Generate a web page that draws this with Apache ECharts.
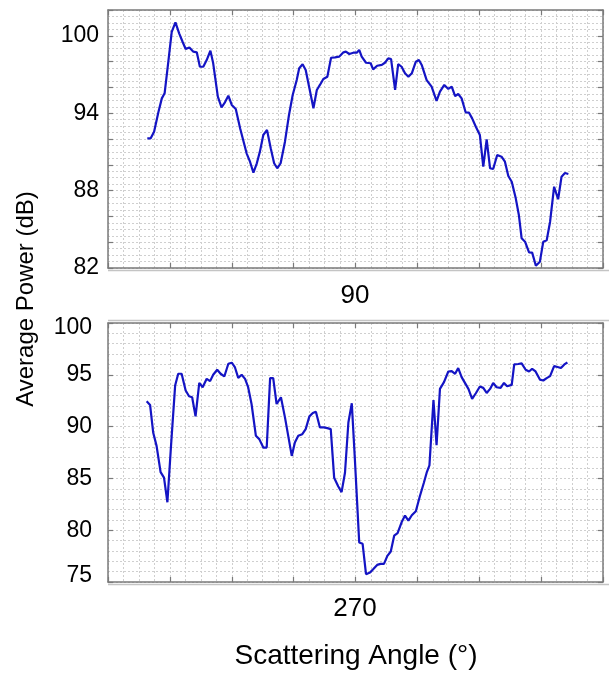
<!DOCTYPE html>
<html>
<head>
<meta charset="utf-8">
<script src="https://cdn.jsdelivr.net/npm/echarts@6/dist/echarts.min.js"></script>
<style>
html,body{margin:0;padding:0;background:#fff;}
#chart{width:609px;height:673px;}
</style>
</head>
<body>
<div id="chart"></div>
<script>
// ---- Data (top panel: azimuth 90) ----
var topAngle = [12.7,13.8,14.9,16.3,17.4,18.3,19.5,20.6,21.8,23.0,
24.1,25.1,26.3,27.6,28.7,29.7,30.8,31.9,33.1,34.0,
35.5,36.7,37.8,38.9,40.0,41.3,42.7,44.8,45.9,47.0,
48.1,49.1,50.2,51.4,52.6,53.7,54.7,55.8,57.2,58.5,
59.7,61.0,61.8,62.9,63.9,65.1,66.4,67.5,68.5,69.6,
70.9,72.1,73.4,74.7,76.1,76.9,78.0,79.3,80.4,81.2,
82.0,83.4,84.9,85.7,87.0,88.5,89.5,90.6,91.5,92.8,
93.8,94.9,96.0,97.1,98.2,99.5,100.5,101.4,103.0,104.6,
106.2,107.3,108.7,110.0,111.1,112.2,113.2,114.3,115.6,116.7,
117.7,118.9,120.2,121.3,122.4,123.5,124.5,125.8,127.2,128.3,
129.4,130.5,131.8,132.8,133.7,134.8,136.1,137.1,138.3,139.6,
140.7,141.8,142.9,144.2,145.5,146.6,147.7,148.8];
var topPower = [92.05,92.05,92.57,94.1,95.15,95.54,98.0,100.3,101.04,100.19,
99.54,98.98,99.1,98.77,98.72,97.6,97.6,98.12,98.85,97.87,
95.28,94.46,94.84,95.36,94.64,94.33,92.83,90.89,90.24,89.39,
90.12,91.02,92.31,92.70,91.28,90.12,89.73,90.12,91.79,93.86,
95.41,96.57,97.48,97.79,97.35,95.93,94.38,95.8,96.19,96.65,
96.83,98.30,98.33,98.38,98.72,98.77,98.59,98.69,98.69,98.9,
98.38,97.91,97.87,97.4,97.68,97.74,97.91,98.25,98.2,95.8,
97.81,97.6,97.09,96.83,97.09,97.99,98.12,97.74,96.57,96.06,
94.95,95.67,96.19,95.88,96.06,95.33,95.49,95.15,94.07,94.04,
93.6,92.95,92.31,89.85,91.97,89.73,89.67,90.76,90.63,90.24,
89.13,88.69,87.4,86.11,84.3,84.04,83.21,83.19,82.18,82.49,
84.04,84.15,85.59,88.3,87.33,89.08,89.36,89.29];

// ---- Data (bottom panel: azimuth 270) ----
var botAngle = [12.5,13.6,14.6,15.7,17.0,18.1,19.2,20.3,21.7,22.7,
23.8,25.1,26.2,27.2,28.3,29.5,30.6,31.9,33.0,34.0,
35.3,36.4,37.6,38.9,40.0,41.0,42.1,43.2,44.3,45.3,
46.4,47.8,48.9,50.2,51.3,52.4,53.4,54.5,55.9,57.2,
59.4,60.4,61.5,62.8,63.9,65.1,66.2,67.2,68.5,69.8,
70.9,72.0,73.1,74.4,75.5,76.6,77.7,78.8,79.8,81.2,
82.3,83.4,84.7,85.7,87.0,88.1,89.2,90.3,91.4,92.5,
93.6,94.9,96.0,97.1,98.2,99.5,100.8,102.1,103.0,103.9,
105.2,106.2,107.3,108.6,110.0,111.1,112.2,113.2,114.3,116.5,
117.7,118.9,120.2,121.3,122.4,123.5,124.5,125.6,126.9,128.0,
129.0,130.5,131.3,132.6,133.7,135.0,136.1,137.1,138.2,139.6,
140.7,141.8,142.9,144.2,145.3,146.4,147.5,148.5];
var botPower = [92.45,92.09,89.44,88.14,85.61,85.07,82.70,87.82,93.96,95.10,
95.10,93.48,92.93,92.83,90.99,94.22,93.80,94.61,94.39,95.0,
95.49,95.10,94.84,96.07,96.17,95.75,94.71,95.0,94.61,93.8,
92.18,89.11,88.79,87.98,87.98,94.68,94.68,92.18,92.83,90.89,
87.17,88.46,89.11,89.27,89.76,90.99,91.31,91.44,89.92,89.92,
89.85,89.76,85.07,84.25,83.67,85.55,90.40,92.25,86.84,78.82,
78.69,75.75,75.91,76.23,76.65,76.75,76.75,77.52,77.94,79.47,
79.72,80.76,81.41,80.92,81.44,81.83,83.28,84.58,85.55,86.26,
92.57,88.2,93.64,94.29,95.32,95.36,95.10,95.65,94.78,93.64,
92.67,93.22,93.87,93.74,93.25,93.64,94.22,93.80,93.74,94.22,
93.9,94.03,96.0,96.04,96.10,95.49,95.32,95.58,95.32,94.54,
94.45,94.68,94.87,95.84,95.75,95.65,96.0,96.19];

var topTicks = [82, 88, 94, 100];
var botTicks = [75, 80, 85, 90, 95, 100];
var panelLabels = ['90', '270'];
var yTitle = 'Average Power (dB)';
var xTitle = 'Scattering Angle (°)';

function zip(a, b) { return a.map(function (v, i) { return [v, b[i]]; }); }

var FONT = '"Liberation Sans", Arial, sans-serif';
var frameColor = '#7a7a7a';
var gridColor = '#cfcfcf';
var lineColor = '#1414c4';

function xAxes(gi) {
  var base = {
    type: 'value', gridIndex: gi, min: 0, max: 160, interval: 20,
    axisLabel: { show: false },
    axisLine: { show: true, onZero: false, lineStyle: { color: frameColor, width: 1.5 } },
    axisTick: { show: true, inside: true, length: 5, lineStyle: { color: frameColor, width: 1.2 } }
  };
  return [
    Object.assign({}, base, {
      position: 'bottom',
      splitLine: { show: true, lineStyle: { color: gridColor, type: [2, 2], width: 1 } },
      minorTick: { show: false, splitNumber: 4 },
      minorSplitLine: { show: true, lineStyle: { color: gridColor, type: [2, 2], width: 1 } }
    }),
    Object.assign({}, base, { position: 'top', splitLine: { show: false } })
  ];
}

function yAxes(gi, min, max, interval, minorSplit, labels, margin, nudgeEnds) {
  var base = {
    type: 'value', gridIndex: gi, min: min, max: max, interval: interval,
    axisLine: { show: true, onZero: false, lineStyle: { color: frameColor, width: 1.5 } },
    axisTick: { show: true, inside: true, length: 5, lineStyle: { color: frameColor, width: 1.2 } }
  };
  var lbl = { fontSize: 23, fontFamily: FONT, color: '#000' };
  return [
    Object.assign({}, base, {
      position: 'left',
      axisLabel: {
        show: true, margin: margin, color: '#000', fontSize: 23, fontFamily: FONT,
        formatter: function (v) {
          if (labels.indexOf(v) < 0) return '';
          if (nudgeEnds && v === max) return '{hi|' + v + '}';
          if (nudgeEnds && v === min) return '{lo|' + v + '}';
          return String(v);
        },
        rich: {
          hi: Object.assign({ padding: [10, 0, 0, 0] }, lbl),
          lo: Object.assign({ padding: [0, 0, 13, 0] }, lbl)
        }
      },
      splitLine: { show: true, lineStyle: { color: gridColor, type: [2, 2], width: 1 } },
      minorTick: { show: false, splitNumber: minorSplit },
      minorSplitLine: { show: true, lineStyle: { color: gridColor, type: [2, 2], width: 1 } }
    }),
    Object.assign({}, base, { position: 'right', axisLabel: { show: false }, splitLine: { show: false } })
  ];
}

var chart = echarts.init(document.getElementById('chart'), null, { renderer: 'canvas' });

var option = {
  animation: false,
  backgroundColor: '#ffffff',
  grid: [
    { left: 108, top: 10, width: 495, height: 258 },
    { left: 108, top: 323, width: 495, height: 259 }
  ],
  xAxis: xAxes(0).concat(xAxes(1)),
  yAxis: yAxes(0, 82, 102, 2, 4, topTicks, 9, false).concat(yAxes(1, 75, 100, 5, 5, botTicks, 16, true)),
  series: [
    {
      type: 'line', xAxisIndex: 0, yAxisIndex: 0, data: zip(topAngle, topPower),
      showSymbol: false, symbol: 'none', lineStyle: { color: lineColor, width: 2.2 }
    },
    {
      type: 'line', xAxisIndex: 2, yAxisIndex: 2, data: zip(botAngle, botPower),
      showSymbol: false, symbol: 'none', lineStyle: { color: lineColor, width: 2.2 }
    }
  ],
  graphic: [
    { type: 'line', shape: { x1: 108, y1: 270.5, x2: 609, y2: 270.5 }, style: { stroke: '#c4c4c4', lineWidth: 1.5 } },
    { type: 'line', shape: { x1: 108, y1: 320.5, x2: 609, y2: 320.5 }, style: { stroke: '#c4c4c4', lineWidth: 1.5 } },
    { type: 'line', shape: { x1: 108, y1: 584.5, x2: 609, y2: 584.5 }, style: { stroke: '#c4c4c4', lineWidth: 1.5 } },
    { type: 'text', x: 355, y: 296, style: { text: panelLabels[0], font: '26px ' + FONT, fill: '#000', textAlign: 'center', textVerticalAlign: 'middle' } },
    { type: 'text', x: 355, y: 609, style: { text: panelLabels[1], font: '26px ' + FONT, fill: '#000', textAlign: 'center', textVerticalAlign: 'middle' } },
    { type: 'text', x: 356, y: 656, style: { text: xTitle, font: '28px ' + FONT, fill: '#000', textAlign: 'center', textVerticalAlign: 'middle' } },
    { type: 'text', x: 26, y: 299, rotation: Math.PI / 2, style: { text: yTitle, font: '24px ' + FONT, fill: '#000', textAlign: 'center', textVerticalAlign: 'middle' } }
  ]
};
chart.setOption(option);
</script>
</body>
</html>
